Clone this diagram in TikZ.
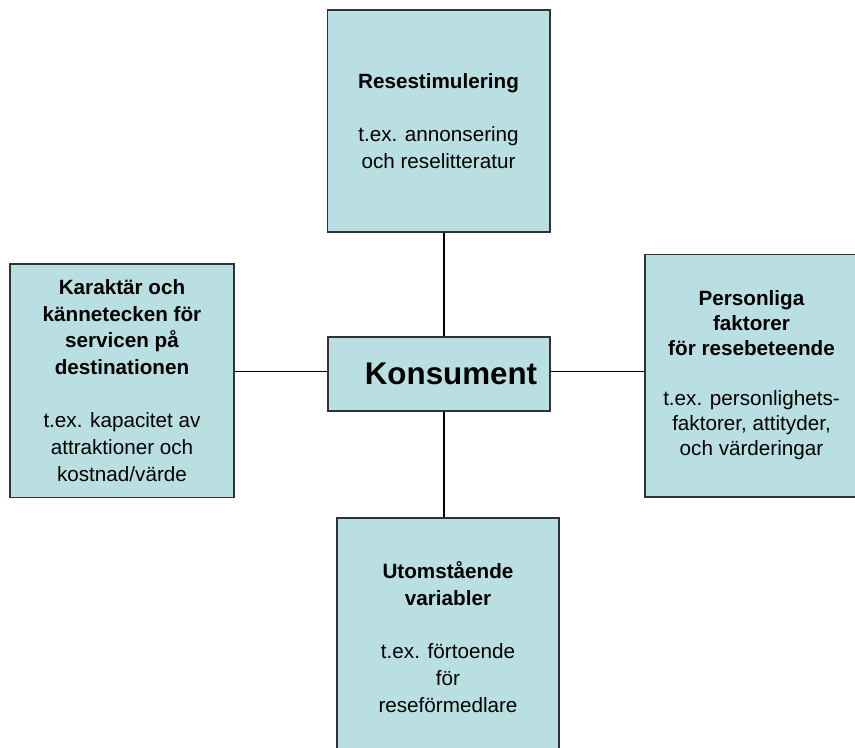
\documentclass[tikz,border=0pt]{standalone}
\usepackage{fontspec}
\setmainfont{Liberation Sans}
\usetikzlibrary{positioning}
\definecolor{boxfill}{RGB}{186,223,226}
\definecolor{boxline}{RGB}{50,50,50}
\tikzset{
  factor/.style={draw=boxline,line width=1pt,fill=boxfill,align=center,
    font=\fontsize{15.5}{20}\selectfont},
  link/.style={line width=1pt}
}
\begin{document}
\begin{tikzpicture}[x=0.75pt,y=-0.75pt]
  \clip (0,0) rectangle (855,747);
  \fill[white] (0,0) rectangle (855,747);
  % the four factors round the consumer
  \node[factor,minimum width=167pt,minimum height=166.5pt] (stim) at (438.5,121)
    {\textbf{Resestimulering}\\ \\ t.ex. annonsering\\ och reselitteratur};
  \node[factor,minimum width=168pt,minimum height=175pt] (dest) at (122,380.5)
    {\textbf{Karaktär och}\\ \textbf{kännetecken för}\\ \textbf{servicen på}\\ \textbf{destinationen}\\ \\ t.ex. kapacitet av\\ attraktioner och\\ kostnad/värde};
  \node[factor,minimum width=166.5pt,minimum height=55.5pt] (cons) at (439,374)
    {\hspace*{18pt}\fontsize{23.5}{28}\selectfont\textbf{Konsument}};
  \node[factor,minimum width=160pt,minimum height=182pt,
    font=\fontsize{15.5}{18.75}\selectfont] (pers) at (751.5,375.5)
    {\textbf{Personliga}\\ \textbf{faktorer}\\ \textbf{för resebeteende}\\ \\ t.ex. personlighets-\\ faktorer, attityder,\\ och värderingar};
  \node[factor,minimum width=166.5pt,minimum height=178.5pt] (extr) at (448,637)
    {\textbf{Utomstående}\\ \textbf{variabler}\\ \\ t.ex. förtoende\\ för\\ reseförmedlare};
  % connectors
  \coordinate (up) at ([xshift=4pt]stim.south);
  \coordinate (mid) at ([yshift=2pt]cons.west);
  \draw[link] (up) -- (up |- cons.north);
  \draw[link] (mid) -- (mid -| dest.east);
  \draw[link] ([yshift=2pt]cons.east) -- ([yshift=2pt]cons.east -| pers.west);
  \draw[link] (up |- cons.south) -- (up |- extr.north);
\end{tikzpicture}
\end{document}
